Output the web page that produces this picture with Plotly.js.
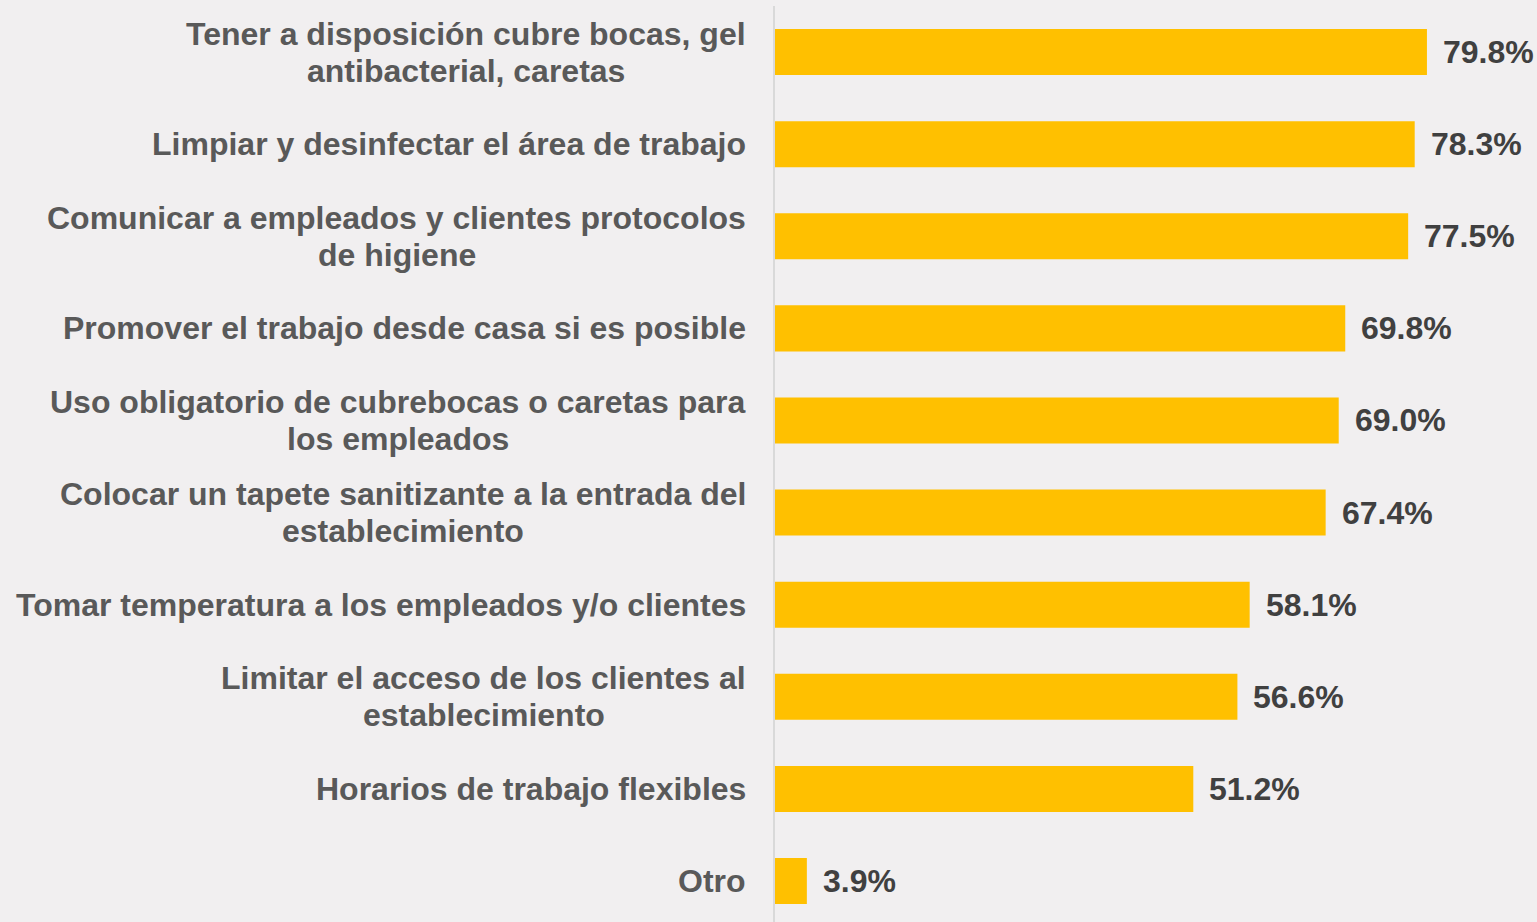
<!DOCTYPE html>
<html>
<head>
<meta charset="utf-8">
<script src="https://cdn.plot.ly/plotly-3.0.1.min.js"></script>
<style>
html,body{margin:0;padding:0;background:#f1eff0;}
#chart{width:1537px;height:922px;}
</style>
</head>
<body>
<div id="chart"></div>
<script>
const categories = [
  "Tener a disposición cubre bocas, gel\nantibacterial, caretas",
  "Limpiar y desinfectar el área de trabajo",
  "Comunicar a empleados y clientes protocolos\nde higiene",
  "Promover el trabajo desde casa si es posible",
  "Uso obligatorio de cubrebocas o caretas para\nlos empleados",
  "Colocar un tapete sanitizante a la entrada del\nestablecimiento",
  "Tomar temperatura a los empleados y/o clientes",
  "Limitar el acceso de los clientes al\nestablecimiento",
  "Horarios de trabajo flexibles",
  "Otro"
];
const values = [79.8, 78.3, 77.5, 69.8, 69.0, 67.4, 58.1, 56.6, 51.2, 3.9];
const valueLabels = values.map(v => v.toFixed(1) + "%");

const FONT = "Liberation Sans, Arial, sans-serif";
const FSIZE = 32;
const LINE = 37;

const canvas = document.createElement("canvas");
const ctx = canvas.getContext("2d");
ctx.font = "bold " + FSIZE + "px 'Liberation Sans', Arial, sans-serif";

const idx = categories.map((c, i) => i);
const annotations = [];

categories.forEach((cat, i) => {
  const lines = cat.split("\n");
  const maxw = Math.max(...lines.map(l => ctx.measureText(l).width));
  lines.forEach((ln, j) => {
    annotations.push({
      xref: "paper", x: 0, yref: "y", y: i,
      text: ln, showarrow: false,
      xanchor: "center", yanchor: "middle",
      xshift: -(29 + maxw / 2),
      yshift: ((lines.length - 1) / 2 - j) * LINE,
      font: {family: FONT, size: FSIZE, color: "#595959", weight: 700}
    });
  });
});

values.forEach((v, i) => {
  annotations.push({
    xref: "x", x: v, yref: "y", y: i,
    text: valueLabels[i], showarrow: false,
    xanchor: "left", yanchor: "middle", xshift: 14,
    font: {family: FONT, size: FSIZE, color: "#404040", weight: 700}
  });
});

const trace = {
  type: "bar", orientation: "h",
  x: values, y: idx, width: 0.5,
  marker: {color: "#ffc000", line: {width: 0}},
  hoverinfo: "skip"
};

const layout = {
  width: 1537, height: 922,
  margin: {l: 775, r: 0, t: 6, b: 0, pad: 0},
  paper_bgcolor: "#f1eff0", plot_bgcolor: "#f1eff0",
  showlegend: false,
  xaxis: {range: [0, 93.27], visible: false, fixedrange: true},
  yaxis: {range: [9.445, -0.5], showticklabels: false, showgrid: false,
          zeroline: false, showline: true, linecolor: "#d9d9d9", linewidth: 2,
          ticks: "", fixedrange: true},
  annotations: annotations
};

Plotly.newPlot("chart", [trace], layout, {displayModeBar: false, staticPlot: true});
</script>
</body>
</html>
